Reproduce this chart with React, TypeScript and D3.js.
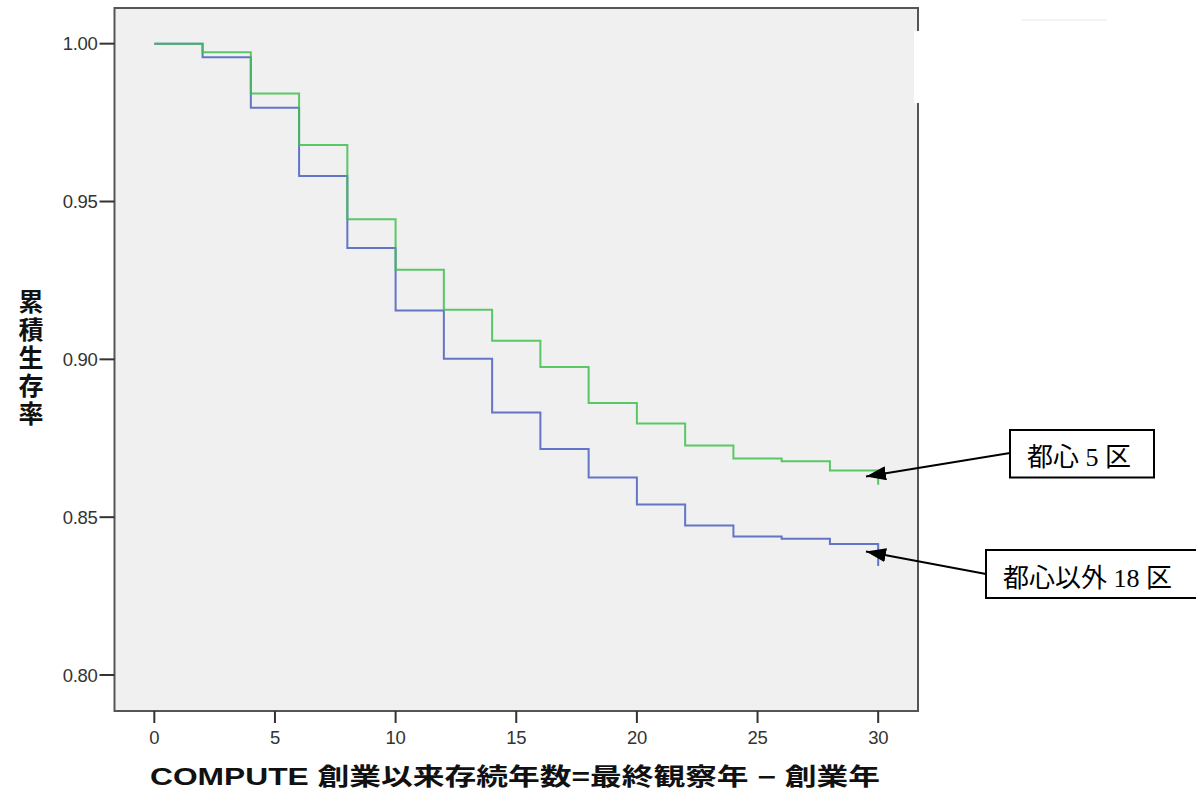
import React from 'react';
import * as d3 from 'd3';

// 生存期間（年）
const years = [0, 2, 4, 6, 8, 10, 12, 14, 16, 18, 20, 22, 24, 26, 28, 30];
// 都心5区
const central5 = [1.0, 0.9973, 0.9842, 0.9679, 0.9444, 0.9284, 0.9157, 0.9059, 0.8976, 0.8862, 0.8797, 0.8727, 0.8686, 0.8677, 0.8648, 0.8603];
// 都心以外18区
const other18 = [1.0, 0.9957, 0.9797, 0.9581, 0.9353, 0.9155, 0.9002, 0.8832, 0.8716, 0.8626, 0.854, 0.8474, 0.8439, 0.8432, 0.8415, 0.8345];

const xTicks = [0, 5, 10, 15, 20, 25, 30];
const yTicks = [1.0, 0.95, 0.9, 0.85, 0.8];
const yTitle = ['累', '積', '生', '存', '率'];
const xTitle = 'COMPUTE 創業以来存続年数=最終観察年 − 創業年';

const W = 1196;
const H = 797;
const frame = { left: 114.5, right: 918, top: 8, bottom: 711 };

const App = () => {
  const x = d3.scaleLinear().domain([-1.65, 31.65]).range([frame.left, frame.right]);
  const y = d3.scaleLinear().domain([0.7886, 1.0113]).range([frame.bottom, frame.top]);

  const line = d3.line<number>()
    .x((_, i) => x(years[i]))
    .y((d) => y(d))
    .curve(d3.curveStepAfter);

  const tickFont = '"Liberation Sans", Arial, sans-serif';
  const jpSans = '"Liberation Sans", "Noto Sans CJK JP", sans-serif';
  const jpSerif = '"Liberation Serif", "Noto Sans CJK JP", serif';

  return (
    <svg width={W} height={H} style={{ position: 'absolute', left: 0, top: 0 }}>
      <defs>
        <marker id="ah" viewBox="0 0 20 14" refX="20" refY="7" markerWidth="20" markerHeight="14" orient="auto" markerUnits="userSpaceOnUse">
          <path d="M0,0 L20,7 L0,14 z" fill="#000" />
        </marker>
      </defs>
      <rect x={0} y={0} width={W} height={H} fill="#fff" />
      <rect
        x={frame.left}
        y={frame.top}
        width={frame.right - frame.left}
        height={frame.bottom - frame.top}
        fill="#f0f0f0"
        stroke="#555"
        strokeWidth={2}
      />

      {/* y ticks */}
      {yTicks.map((t) => (
        <g key={t}>
          <line x1={frame.left - 15} x2={frame.left} y1={y(t)} y2={y(t)} stroke="#333" strokeWidth={2} />
          <text x={frame.left - 17} y={y(t)} dy="0.36em" textAnchor="end" fontFamily={tickFont} fontSize={18.5} fill="#333" letterSpacing={-0.3}>
            {t.toFixed(2)}
          </text>
        </g>
      ))}

      {/* x ticks */}
      {xTicks.map((t) => (
        <g key={t}>
          <line x1={x(t)} x2={x(t)} y1={frame.bottom} y2={frame.bottom + 12} stroke="#333" strokeWidth={2} />
          <text x={x(t)} y={743.5} textAnchor="middle" fontFamily={tickFont} fontSize={18.5} fill="#333" letterSpacing={-0.3}>
            {t}
          </text>
        </g>
      ))}

      {/* curves */}
      <path d={line(other18) || ''} fill="none" stroke="#4a5fbf" strokeWidth={2} strokeOpacity={0.85} />
      <path d={line(central5) || ''} fill="none" stroke="#3fbf4f" strokeWidth={2} strokeOpacity={0.85} />

      {/* axis titles */}
      {yTitle.map((c, i) => (
        <text key={c} x={31} y={302 + i * 28} dy="0.35em" textAnchor="middle" fontFamily={jpSans} fontWeight="bold" fontSize={25} fill="#111">
          {c}
        </text>
      ))}
      <text x={150} y={785} fontFamily={jpSans} fontWeight="bold" fontSize={24} fill="#111" textLength={730} lengthAdjust="spacingAndGlyphs">
        {xTitle}
      </text>

      {/* white box over legend area */}
      <rect x={914} y={31} width={W - 914} height={72} fill="#fff" />
      <line x1={1022} x2={1107} y1={20} y2={20} stroke="#e6e6e6" strokeWidth={1} />

      {/* annotations */}
      <rect x={1010} y={430} width={144} height={47.5} fill="#fff" stroke="#000" strokeWidth={2} />
      <text x={1027} y={466} fontFamily={jpSerif} fontSize={26} fill="#000">
        都心 5 区
      </text>
      <line x1={1010} y1={453} x2={866} y2={476.5} stroke="#000" strokeWidth={2} markerEnd="url(#ah)" />

      <rect x={986} y={550} width={230} height={48} fill="#fff" stroke="#000" strokeWidth={2} />
      <text x={1003} y={587} fontFamily={jpSerif} fontSize={26} fill="#000">
        都心以外 18 区
      </text>
      <line x1={986} y1={574} x2={866} y2={551.5} stroke="#000" strokeWidth={2} markerEnd="url(#ah)" />
    </svg>
  );
};

export default App;
